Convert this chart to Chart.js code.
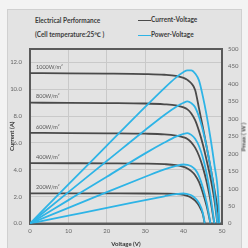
<!DOCTYPE html>
<html>
<head>
<meta charset="utf-8">
<script src="https://cdn.jsdelivr.net/npm/chart.js@4.4.1/dist/chart.umd.min.js"></script>
<style>
  body { margin: 0; background: #f3f3f3; }
  #wrap { position: relative; width: 248px; height: 248px; overflow: hidden; font-family: Lato, "Noto Sans", sans-serif; }
  #panel { position: absolute; left: 7px; top: 9px; width: 233px; height: 245px; background: #e3e3e3; border: 1px solid #d0d0d0; }
  canvas { position: absolute; left: 0; top: 0; }
  .txt { position: absolute; font-size: 6.5px; font-weight: 700; color: #3c3c3c; white-space: nowrap; line-height: 8px; }
  .key { position: absolute; width: 13px; height: 0; }
  #pmax { position: absolute; left: 243px; top: 137px; transform: translate(-50%, -50%) rotate(-90deg); font-size: 6px; font-weight: 700; color: #444; white-space: nowrap; }
</style>
</head>
<body>
<div id="wrap">
  <div id="panel"></div>
  <div class="txt" style="left:35px;top:17px">Electrical Performance</div>
  <div class="txt" style="left:35px;top:31px">(Cell temperature:25℃ )</div>
  <div class="key" style="left:138px;top:20px;border-top:1.5px solid #4a4a4a"></div>
  <div class="txt" style="left:151px;top:16px">Current-Voltage</div>
  <div class="key" style="left:138px;top:35px;border-top:1.5px solid #2eb4e6"></div>
  <div class="txt" style="left:151px;top:31px">Power-Voltage</div>
  <canvas id="c" width="248" height="248"></canvas>
  <div id="pmax">Pmax ( W )</div>
</div>
<script>
// irradiance levels, top curve first
const irradiance = ['1000W/m²', '800W/m²', '600W/m²', '400W/m²', '200W/m²'];

const volts1000 = [0, 10, 20, 30, 35, 38, 40, 41, 42, 43, 44, 45, 46, 47, 48, 49, 49.3];
const amps1000  = [11.2, 11.19, 11.17, 11.13, 11.08, 11.0, 10.85, 10.7, 10.45, 9.95, 8.6, 7.2, 5.7, 4.2, 2.6, 0.8, 0];
const power1000 = [0, 112, 223, 334, 388, 418, 434, 439, 439, 430, 410, 365, 310, 245, 170, 80, 0];

const volts800 = [0, 10, 20, 30, 35, 38, 40, 41, 42, 43, 44, 45, 46, 47, 48, 48.8];
const amps800  = [9.0, 8.99, 8.97, 8.94, 8.88, 8.8, 8.65, 8.5, 8.2, 7.7, 6.9, 5.9, 4.7, 3.4, 1.8, 0];
const power800 = [0, 90, 179, 268, 311, 334, 346, 350, 345, 333, 306, 268, 220, 162, 90, 0];

const volts600 = [0, 10, 20, 30, 35, 38, 40, 41, 42, 43, 44, 45, 46, 47, 48];
const amps600  = [6.75, 6.74, 6.72, 6.69, 6.64, 6.55, 6.42, 6.3, 6.05, 5.65, 5.05, 4.2, 3.1, 1.7, 0];
const power600 = [0, 67, 134, 201, 232, 249, 257, 259, 254, 243, 222, 189, 143, 80, 0];

const volts400 = [0, 10, 20, 30, 35, 38, 40, 41, 42, 43, 44, 45, 46, 47];
const amps400  = [4.5, 4.49, 4.48, 4.46, 4.42, 4.35, 4.22, 4.1, 3.9, 3.6, 3.1, 2.3, 1.3, 0];
const power400 = [0, 45, 90, 134, 155, 165, 169, 168, 164, 155, 136, 104, 60, 0];

const volts200 = [0, 10, 20, 30, 35, 38, 40, 41, 42, 43, 44, 45, 45.5];
const amps200  = [2.25, 2.25, 2.24, 2.235, 2.22, 2.2, 2.14, 2.06, 1.92, 1.7, 1.33, 0.7, 0];
const power200 = [0, 22.5, 45, 67, 78, 84, 86, 84, 81, 73, 59, 31, 0];

const curves = [
  [volts1000, amps1000, power1000],
  [volts800, amps800, power800],
  [volts600, amps600, power600],
  [volts400, amps400, power400],
  [volts200, amps200, power200],
];

const GRAY = '#4a4a4a';
const CYAN = '#2eb4e6';
const pts = (xs, ys) => xs.map((x, i) => ({ x, y: ys[i] }));

function line(data, color, axis) {
  return {
    data, borderColor: color, borderWidth: 1.8, yAxisID: axis,
    showLine: true, pointRadius: 0, cubicInterpolationMode: 'monotone',
  };
}

// power curves first so they sit on top
const datasets = [
  ...curves.map(c => line(pts(c[0], c[2]), CYAN, 'yP')),
  ...curves.map(c => line(pts(c[0], c[1]), GRAY, 'yI')),
];

const frame = {
  id: 'frame',
  beforeDatasetsDraw(chart) {
    const { ctx, chartArea: a } = chart;
    ctx.save();
    ctx.strokeStyle = '#5a5a5a';
    ctx.lineWidth = 2;
    ctx.strokeRect(a.left, a.top, a.right - a.left, a.bottom - a.top);
    ctx.restore();
  },
  afterDatasetsDraw(chart) {
    const { ctx, scales } = chart;
    ctx.save();
    ctx.font = '5.5px Lato, "Noto Sans", sans-serif';
    ctx.fillStyle = '#555';
    ctx.textBaseline = 'middle';
    curves.forEach((c, i) => {
      ctx.fillText(irradiance[i], scales.x.getPixelForValue(0) + 6, scales.yI.getPixelForValue(c[1][0]) - 6);
    });
    ctx.restore();
  }
};

const tickFont = { family: 'Lato, "Noto Sans", sans-serif', size: 6 };
const titleFont = { family: 'Lato, "Noto Sans", sans-serif', size: 6, weight: 'bold' };

new Chart(document.getElementById('c'), {
  type: 'scatter',
  data: { datasets },
  plugins: [frame],
  options: {
    responsive: false,
    animation: false,
    layout: { padding: { top: 49, left: 0, right: 0, bottom: 0 } },
    plugins: { legend: { display: false }, tooltip: { enabled: false } },
    scales: {
      x: {
        type: 'linear', min: 0, max: 50,
        ticks: { stepSize: 10, color: '#666', font: tickFont, padding: 4, maxRotation: 0 },
        grid: { color: '#c9c9c9', drawTicks: false },
        border: { color: '#5a5a5a', width: 2 },
        title: { display: true, text: 'Voltage (V)', color: '#333', font: titleFont, padding: { top: 2, bottom: 0 } },
        afterFit: s => { s.height = 24.5; },
      },
      yI: {
        position: 'left', min: 0, max: 13,
        ticks: { stepSize: 2, includeBounds: false, color: '#666', font: tickFont, padding: 8,
          callback: v => v.toFixed(1) },
        grid: { color: '#c9c9c9', drawTicks: false },
        border: { color: '#5a5a5a', width: 2 },
        title: { display: true, text: 'Current (A)', color: '#333', font: titleFont, padding: { top: 8, bottom: 0 } },
        afterFit: s => { s.width = 30; },
      },
      yP: {
        position: 'right', min: 0, max: 500,
        ticks: { stepSize: 50, color: '#666', font: tickFont, padding: 6 },
        grid: { display: false, drawTicks: false },
        border: { color: '#5a5a5a', width: 2 },
        afterFit: s => { s.width = 26; },
      },
    },
  },
});
</script>
</body>
</html>
